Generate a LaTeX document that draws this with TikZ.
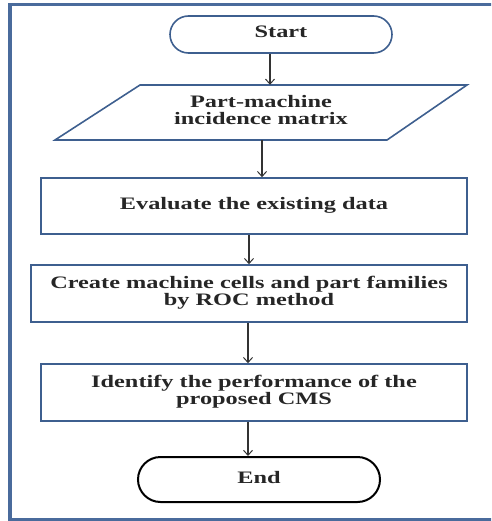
\documentclass[tikz,border=0pt]{standalone}
\usepackage{fontspec}
\setmainfont{Liberation Serif}
\usetikzlibrary{shapes.misc,arrows.meta}
\definecolor{frameblue}{HTML}{4A6B9C}
\definecolor{boxblue}{HTML}{3E5F8F}
\definecolor{arrgray}{HTML}{333333}
\newcommand{\wt}[1]{\raisebox{-2pt}{\scalebox{1.39}[1]{\begin{tabular}{@{}c@{}}#1\end{tabular}}}}
\tikzset{
  x=1pt,y=1pt,
  txt/.style={font=\fontsize{17.5}{17.5}\selectfont\bfseries, text=black!85, inner sep=0pt},
  boxnode/.style={txt, draw=boxblue, line width=1.6pt, rectangle},
  term/.style={txt, rounded rectangle, line width=1.6pt},
  arr/.style={draw=arrgray, line width=1.1pt, -{Straight Barb[length=5pt,width=9pt,line width=1pt]}},
}
\begin{document}
\begin{tikzpicture}
\useasboundingbox (0,0) rectangle (491,-521);
\begin{scope}
\clip (0,0) rectangle (491,-521);
\draw[frameblue, line width=3.5pt] (495,-4.5) -- (10,-4.5) -- (10,-519.5) -- (495,-519.5);
\end{scope}
% nodes
\node[term, draw=boxblue, minimum width=222, minimum height=37] (start) at (281,-34.5) {\wt{Start}};
\node[txt, minimum width=250, minimum height=55] (para) at (261,-112.5) {\wt{Part-machine\\incidence matrix}};
\draw[draw=boxblue, line width=1.6pt] (140,-85) -- (467,-85) -- (387,-140) -- (55,-140) -- cycle;
\node[boxnode, minimum width=426, minimum height=56] (eval) at (254,-206) {\wt{Evaluate the existing data}};
\node[boxnode, minimum width=436, minimum height=57] (create) at (249,-293.5) {\wt{Create machine cells and part families\\by ROC method}};
\node[boxnode, minimum width=426, minimum height=57] (ident) at (254,-392.5) {\wt{Identify the performance of the\\proposed CMS}};
\node[term, draw=black, line width=2pt, minimum width=242, minimum height=45] (end) at (259,-479.5) {\wt{End}};
% connector columns
\coordinate (c1) at (270,0);
\coordinate (c2) at (262,0);
\coordinate (c3) at (249,0);
\coordinate (c4) at (248,0);
\draw[arr] (start.south -| c1) -- (para.north -| c1);
\draw[arr] (para.south -| c2) -- (eval.north -| c2);
\draw[arr] (eval.south -| c3) -- (create.north -| c3);
\draw[arr] (create.south -| c4) -- (ident.north -| c4);
\draw[arr] (ident.south -| c4) -- (end.north -| c4);
\end{tikzpicture}
\end{document}
